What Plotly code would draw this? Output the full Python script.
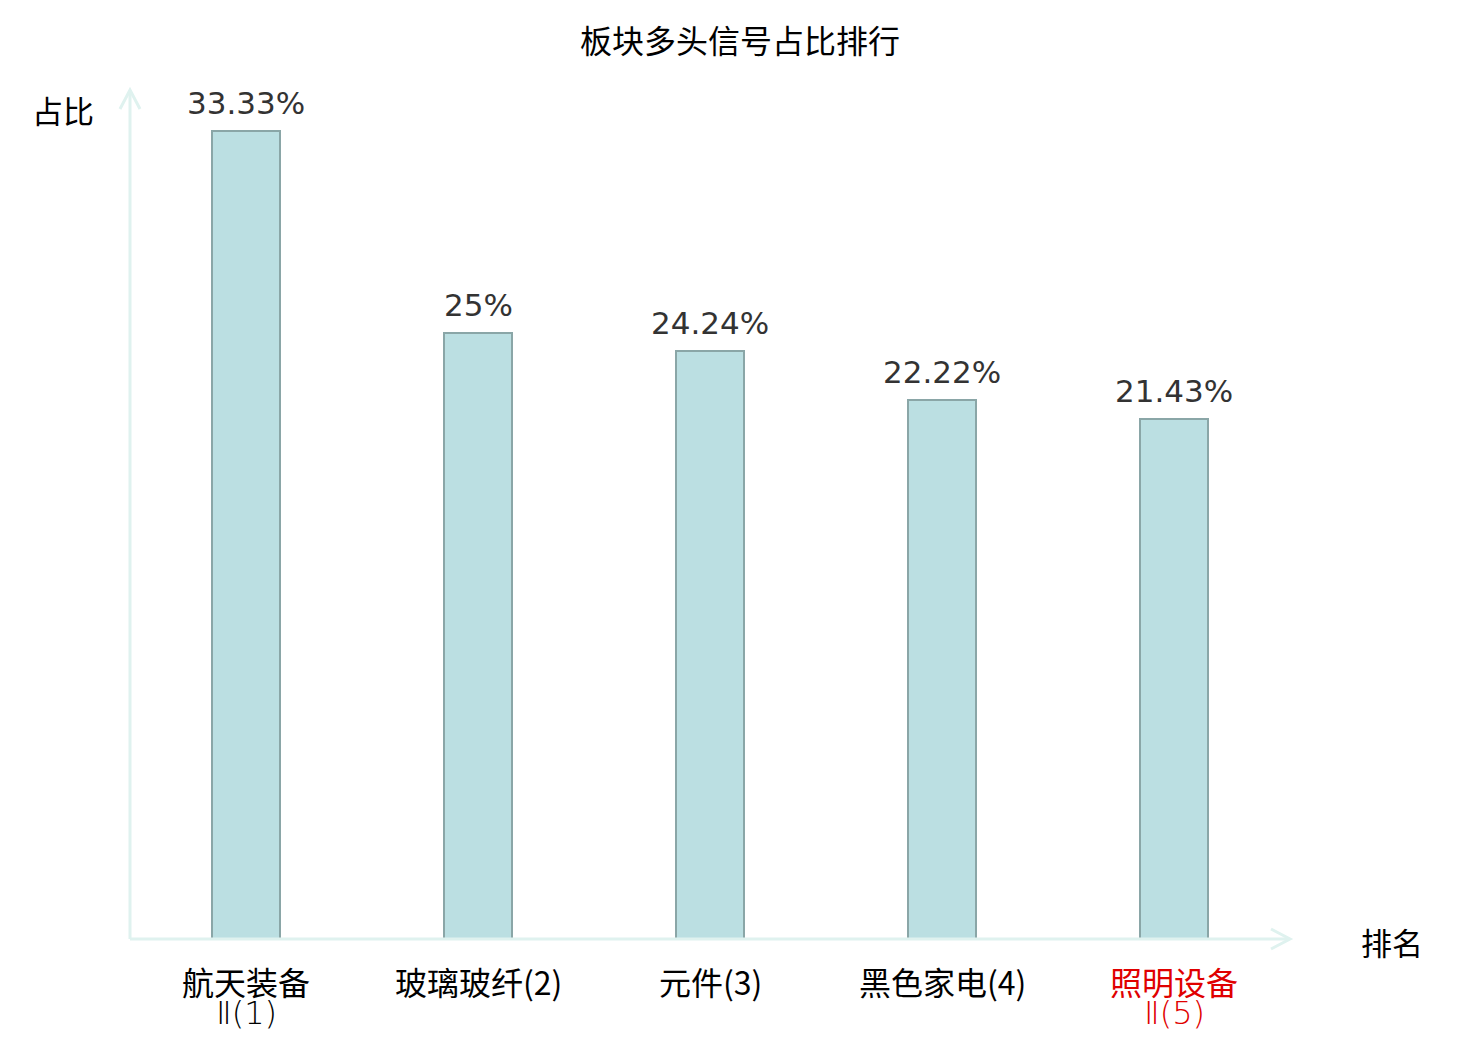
import plotly.graph_objects as go

# 板块多头信号占比排行
categories = ["航天装备<br>Ⅱ(1)", "玻璃玻纤(2)", "元件(3)", "黑色家电(4)", "照明设备<br>Ⅱ(5)"]
ratios = [33.33, 25, 24.24, 22.22, 21.43]
ratio_labels = ["33.33%", "25%", "24.24%", "22.22%", "21.43%"]
label_colors = ["#000000", "#000000", "#000000", "#000000", "#e00000"]

FONT = "DejaVu Sans, Noto Sans CJK SC, sans-serif"
LABEL_FONT = "Noto Sans CJK SC, sans-serif"
AXIS_COLOR = "#dff2ef"

# plot area in pixels
W, H = 1480, 1040
L, R, T, B = 130, 190, 90, 101
pw, ph = W - L - R, H - T - B

fig = go.Figure()
fig.add_trace(go.Bar(
    x=list(range(len(categories))),
    y=ratios,
    width=0.293,
    marker=dict(color="#bbdfe2", line=dict(color="#8aa6a7", width=2)),
    hoverinfo="y",
))

annotations = []
# value labels above the bars
for i, (v, t) in enumerate(zip(ratios, ratio_labels)):
    annotations.append(dict(
        x=i, y=v, xref="x", yref="y", text=t, showarrow=False,
        yanchor="bottom", yshift=8,
        font=dict(size=31, color="#333333", family=FONT),
    ))
# category labels, one annotation per line so the line spacing stays tight
for i, (cat, col) in enumerate(zip(categories, label_colors)):
    for j, line in enumerate(cat.split("<br>")):
        if j:
            f = dict(size=32, color=col, family="DejaVu Sans, sans-serif", weight=200)
        else:
            f = dict(size=32, color=col, family=LABEL_FONT)
        annotations.append(dict(
            x=i, y=0, xref="x", yref="paper", text=line, showarrow=False,
            yanchor="middle", yshift=-42 - 32 * j, font=f,
        ))

annotations.append(dict(x=(63 - L) / pw, y=1 - 20 / ph, xref="paper", yref="paper",
                        text="占比", showarrow=False, xanchor="center", yanchor="middle",
                        font=dict(size=31, color="#000000", family="Noto Sans CJK SC")))
annotations.append(dict(x=1 + 102 / pw, y=-2 / ph, xref="paper", yref="paper",
                        text="排名", showarrow=False, xanchor="center", yanchor="middle",
                        font=dict(size=31, color="#000000", family="Noto Sans CJK SC")))

# axes with open arrowheads
dx, dy = 1 / pw, 1 / ph
shapes = [
    dict(type="line", xref="paper", yref="paper", x0=0, y0=0, x1=0, y1=1,
         line=dict(color=AXIS_COLOR, width=3)),
    dict(type="line", xref="paper", yref="paper", x0=0, y0=0, x1=1 - 2 * dx, y1=0,
         line=dict(color=AXIS_COLOR, width=3)),
    dict(type="path", xref="paper", yref="paper",
         path=f"M {-10*dx} {1-19*dy} L 0 1 L {10*dx} {1-19*dy}",
         line=dict(color=AXIS_COLOR, width=3)),
    dict(type="path", xref="paper", yref="paper",
         path=f"M {1-19*dx} {10*dy} L 1 0 L {1-19*dx} {-10*dy}",
         line=dict(color=AXIS_COLOR, width=3)),
]

fig.update_layout(
    width=W, height=H,
    margin=dict(l=L, r=R, t=T, b=B),
    paper_bgcolor="white", plot_bgcolor="white",
    title=dict(text="板块多头信号占比排行", x=0.5, xref="container", xanchor="center",
               y=1 - 42 / H, yanchor="middle",
               font=dict(size=32, color="#000000", family="Noto Sans CJK SC")),
    xaxis=dict(range=[-0.5, len(categories) - 0.5], showticklabels=False,
               showgrid=False, zeroline=False, showline=False, ticks=""),
    yaxis=dict(range=[0, 35], showticklabels=False, showgrid=False,
               zeroline=False, showline=False, ticks=""),
    shapes=shapes,
    annotations=annotations,
    showlegend=False,
    bargap=0,
)

fig.write_html("out.html", config={"displayModeBar": False},
               post_script="document.body.style.margin='0';")
